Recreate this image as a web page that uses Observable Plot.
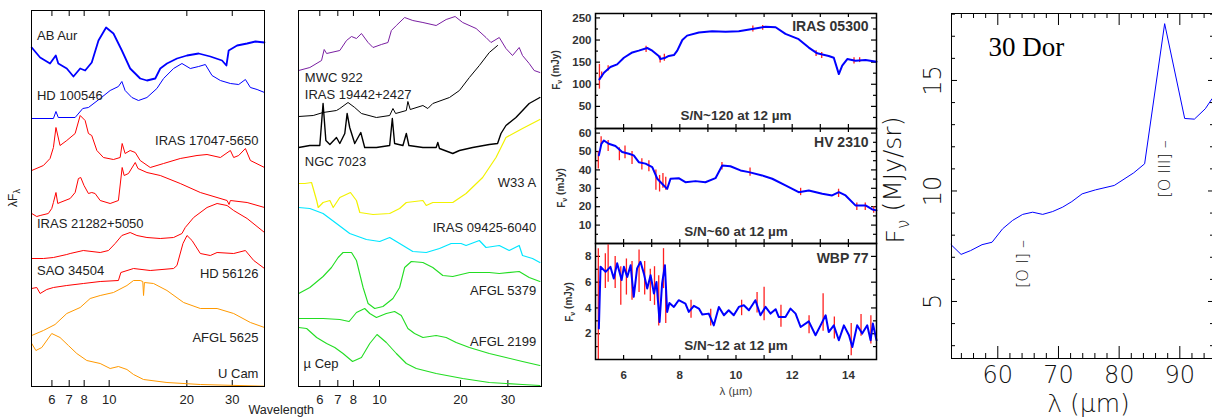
<!DOCTYPE html>
<html><head><meta charset="utf-8">
<script src="https://cdn.jsdelivr.net/npm/d3@7"></script>
<script src="https://cdn.jsdelivr.net/npm/@observablehq/plot@0.6"></script>
<style>
body{margin:0;background:#fff}
#root{position:relative;width:1212px;height:418px;overflow:hidden;background:#fff}
#root svg{position:absolute;overflow:visible}
</style></head>
<body><div id="root"></div>
<script>
// ---------------- Panel 1 (left) spectra: wavelength (µm) and arbitrary offset flux ----------------
const p1Ticks = [6, 7, 8, 10, 20, 30];
const abAurWave = [5.01,5.40,5.90,6.21,6.35,6.85,7.27,7.72,8.07,8.56,9.09,9.73,10.39,11.20,12.06,13.19,14.01,15.09,15.78,16.75,18.32,20.03,22.22,24.66,27.39,28.47,29.06,31.32,34.25,36.89,40];
const abAurFlux = [339,329,323,331,323,318,310,318,316,324,346,359,353,336,318,308,306,308,318,323,328,331,333,330,326,321,336,341,343,345,344];
const hd100546Wave = [5.01,6.08,6.22,6.35,7.38,7.90,8.31,9.23,10.09,10.86,11.20,11.53,12.25,12.99,14.01,15.31,16.25,17.77,19.15,20.63,22.22,23.59,25.04,26.98,29.50,31.77,33.73,35.27,37.45,40];
const hd100546Flux = [268,268,275,269,269,278,279,288,296,300,305,296,289,286,289,298,308,318,323,318,320,322,311,306,303,302,307,299,297,294];
const iras17047Wave = [5.01,5.56,5.90,6.08,6.22,6.45,6.85,7.38,7.72,8.07,8.31,8.56,8.96,9.50,10.39,11.03,11.23,11.53,12.06,12.62,13.19,14.43,16.25,18.86,21.90,23.95,26.98,29.50,30.38,31.77,33.73,35.27,40];
const iras17047Flux = [216,221,228,239,259,241,246,253,271,266,253,251,236,229,227,229,243,233,236,234,226,219,223,228,231,232,229,236,229,231,238,226,219];
const redPahWave = [5.01,5.24,5.40,5.81,5.99,6.08,6.22,6.32,6.45,7.06,7.38,7.60,7.76,7.99,8.31,8.56,8.82,9.23,10.09,10.86,11.23,11.43,11.88,12.62,12.93,14.01,15.78,18.86,22.56,28.64,29.15,29.50,34.25,40];
const redPahFlux = [173,170,171,173,178,184,194,183,184,188,194,208,209,201,193,194,193,186,183,186,219,211,213,224,218,214,211,203,194,186,182,186,184,179];
const iras21282Wave = [5.01,5.56,6.08,6.85,7.06,7.94,9.23,9.94,10.55,11.20,12.06,12.81,14.01,15.78,17.77,19.15,19.72,21.25,23.95,26.2,28.64,30.38,34.25,40];
const iras21282Flux = [128,128,129,132,133,136,134,136,143,151,154,151,149,148,149,153,159,169,179,183,181,176,168,154];
const sao34504Wave = [5.01,5.24,5.40,5.73,6.08,6.85,7.94,9.23,10.86,11.10,12.43,14.43,17.77,18.31,19.32,20.03,20.95,22.56,24.66,26.2,30.38,33.73,36.34,40];
const sao34504Flux = [98,99,93,97,99,101,103,105,106,114,118,116,118,121,143,151,146,133,131,134,133,136,126,118];
const afgl5625Wave = [5.01,5.56,6.17,6.85,7.72,8.44,9.23,10.39,11.72,12.43,13.19,13.50,13.59,13.70,14.86,16.75,19.43,22.56,26.2,30.38,35.27,40];
const afgl5625Flux = [51,56,62,73,79,88,91,94,101,106,106,105,91,104,103,96,84,78,78,73,64,59];
const uCamWave = [5.01,5.20,5.48,5.99,6.45,6.95,7.49,8.19,9.23,10.09,10.86,11.72,12.43,13.59,16.75,22.56,40];
const uCamFlux = [43,36,39,53,49,41,33,26,23,18,20,17,12,7,4,2,0.3];
const p1LeftText = ["AB Aur", "HD 100546", "IRAS 21282+5050", "SAO 34504"];
const p1LeftWave = [5.25, 5.25, 5.25, 5.25];
const p1LeftFlux = [351, 291, 163, 116];
const p1RightText = ["IRAS 17047-5650", "HD 56126", "AFGL 5625", "U Cam"];
const p1RightWave = [37.9, 37.9, 37.9, 37.9];
const p1RightFlux = [246, 113, 49, 13];

// ---------------- Panel 2 spectra ----------------
const mwc922Wave = [5.01,5.51,6.09,6.23,6.36,7.12,7.54,7.87,8.21,8.57,9.07,9.46,10.16,10.75,11.07,11.55,12.40,13.30,14.50,16.24,17.69,19.10,20.38,22.86,24.88,25.96,27.87,29.51,31.21,33.05,34.00,36.00,37.57,39.45];
const mwc922Flux = [316,319,326,337,333,336,346,350,348,353,344,339,342,344,356,361,369,366,364,361,367,370,364,358,349,344,349,338,331,339,331,323,316,314];
const iras19442Wave = [5.01,5.67,6.17,6.92,7.12,7.64,8.09,8.57,9.74,10.91,11.22,11.48,12.58,12.75,13.01,14.50,15.12,15.78,18.20,19.82,21.58,23.50,25.59,27.47];
const iras19442Flux = [270,271,274,276,278,284,279,273,269,271,278,273,276,285,277,281,278,283,289,296,309,321,334,341];
const ngc7023Wave = [5.01,5.51,6.00,6.17,6.32,6.54,6.92,7.12,7.43,7.58,7.75,8.09,8.52,8.81,9.74,10.91,11.16,11.38,12.22,12.58,12.86,14.50,16.24,16.47,16.71,18.72,19.82,22.20,25.59,27.47,28.28,29.51,32.14,36.00,39.45];
const ngc7023Flux = [239,241,241,283,246,242,249,243,253,273,259,243,254,239,239,241,268,243,241,253,241,239,239,244,238,233,236,239,242,243,253,261,269,283,289];
const w33aWave = [5.01,5.28,5.59,5.84,5.92,6.17,6.54,6.73,7.12,7.80,8.21,8.45,9.46,10.91,11.88,12.58,14.50,14.92,15.78,18.72,20.98,24.17,27.10,29.51,34.00,39.45];
const w33aFlux = [203,203,204,186,179,184,186,179,189,194,186,174,172,173,178,184,186,181,184,184,193,209,229,249,258,267];
const iras09425Wave = [5.01,5.51,6.17,6.92,7.75,8.94,10.02,10.91,11.88,13.30,14.92,16.71,18.47,20.10,20.98,23.50,24.88,27.87,30.35,33.05,34.00,37.03,39.45];
const iras09425Flux = [179,178,173,163,153,147,145,149,143,135,134,138,143,143,141,146,139,141,136,141,131,128,124];
const afgl5379Wave = [5.01,5.51,6.17,6.63,7.02,7.32,7.87,8.21,8.69,9.07,9.60,10.30,11.22,11.88,12.40,13.13,14.50,15.78,17.19,18.72,21.58,25.59,27.87,33.05,36.00,39.45];
const afgl5379Flux = [93,99,110,119,129,134,134,126,99,83,78,80,88,99,119,125,124,119,111,110,114,114,113,115,109,105];
const afgl2199Wave = [5.01,5.51,6.17,7.12,7.71,8.21,8.81,9.20,9.74,10.60,11.38,12.05,12.75,13.50,14.50,16.24,17.69,19.27,21.58,25.59,29.51,34.00,39.45];
const afgl2199Flux = [68,68,68,67,65,74,78,73,69,73,75,71,58,53,49,51,49,44,39,33,29,25,21];
const muCepWave = [5.01,5.36,5.84,6.36,6.82,7.32,7.94,8.57,9.20,9.79,10.60,11.55,12.58,13.70,16.24,20.38,25.59,34.00,39.45];
const muCepFlux = [59,58,49,43,39,33,25,29,43,52,44,33,23,18,13,8,4,2,1];
const p2LeftText = ["MWC 922", "IRAS 19442+2427", "NGC 7023", "\u00b5 Cep"];
const p2LeftWave = [5.28, 5.28, 5.28, 5.22];
const p2LeftFlux = [309, 292, 225, 23];
const p2RightText = ["W33 A", "IRAS 09425-6040", "AFGL 5379", "AFGL 2199"];
const p2RightWave = [38.2, 38.2, 38.2, 38.2];
const p2RightFlux = [204, 159, 96, 45];

// ---------------- Panel 3 (three Spitzer spectra) ----------------
const mirTicksLabeled = [6, 8, 10, 12, 14];
const mirTicks = [6, 7, 8, 9, 10, 11, 12, 13, 14];
const iras05300Wave = [5.14,5.30,5.53,5.77,6.01,6.31,6.54,6.84,7.02,7.25,7.31,7.49,7.61,7.79,7.91,8.09,8.26,8.68,9.15,9.63,10.10,10.58,11.05,11.41,11.76,12.23,12.59,12.89,13.30,13.48,13.66,13.78,13.96,14.25,14.61,15.0];
const iras05300Flux = [111,126,139,145,160,172,176,182,176,164,157,160,164,166,176,200,210,217,220,219,220,225,230,229,214,202,183,170,164,160,123,142,157,153,155,151];
const iras05300RedWave = [5.14,5.22,5.45,6.80,7.30,7.45,10.60,10.95,12.85,13.05,14.20,14.40];
const iras05300RedLo = [89,115,130,172,148,152,218,222,163,158,146,149];
const iras05300RedHi = [145,128,142,186,164,168,232,233,176,172,160,160];
const hv2310Wave = [5.12,5.21,5.30,5.47,5.71,5.95,6.19,6.36,6.54,6.78,7.02,7.20,7.37,7.55,7.67,7.96,8.20,8.56,8.91,9.27,9.51,9.80,10.16,10.46,10.93,11.29,11.76,12.23,12.59,13.07,13.42,13.66,13.90,14.25,14.61,14.85,15.0];
const hv2310Flux = [47.9,54.2,56,54.2,53,49.7,48.8,47.9,44.2,43.4,41.5,35.2,32.5,29.7,35.2,35.5,33.3,33.9,33.3,35.5,42.4,42.0,39.7,38.8,37.0,35.2,31.6,27.9,28.8,27.0,26.1,27.9,26.1,20.7,20.7,18.5,18.0];
const hv2310RedWave = [5.10,5.20,5.45,5.85,6.05,6.30,6.65,6.90,7.15,7.28,7.40,7.50,9.50,10.50,12.30,13.65,14.30,14.60,14.90];
const hv2310RedLo = [40.5,53,50,45,46,43,40,39,29,28,30,29,40,36.5,26,25,18,18,16.5];
const hv2310RedHi = [50,58,56,52,53,50,46,45,40,37,38,36,44,41,30,29.5,22,22,20];
const wbp77Wave = [5.12,5.18,5.36,5.53,5.65,5.77,5.93,6.01,6.13,6.25,6.36,6.48,6.60,6.72,6.84,6.96,7.08,7.17,7.28,7.37,7.47,7.55,7.63,7.79,7.96,8.20,8.32,8.50,8.68,8.80,9.03,9.21,9.39,9.57,9.74,9.92,10.10,10.28,10.46,10.69,10.87,11.05,11.23,11.41,11.52,11.76,11.94,12.12,12.30,12.59,12.83,13.01,13.19,13.30,13.48,13.66,13.84,14.02,14.14,14.31,14.49,14.67,14.79,14.87,15.0];
const wbp77Flux = [2.4,7.19,6.80,7.19,6.29,7.46,6.16,7.19,6.41,7.32,4.86,7.07,7.58,6.68,5.51,6.54,5.12,6.02,2.91,5.90,7.32,3.69,4.39,4.08,4.60,4.34,3.69,4.16,3.95,3.49,3.56,2.65,4.08,3.43,3.82,3.43,4.08,4.21,3.82,4.60,3.43,4.08,3.56,3.90,3.30,3.30,3.95,3.56,2.52,2.96,1.88,2.65,3.43,2.13,2.65,1.49,2.65,1.88,0.97,2.65,2.01,2.65,1.49,2.79,1.49];
const wbp77RedWave = [5.10,5.35,5.45,5.70,5.90,6.10,6.30,6.55,6.75,6.95,7.10,7.25,7.42,7.50,8.40,9.10,10.20,10.75,11.00,11.60,12.60,13.10,13.50,14.10,14.45,14.80];
const wbp77RedLo = [0,5.5,6,5.5,4.2,5,4.6,5.2,5.0,4.5,4.2,2.6,5.5,2.8,3.2,2.6,3.4,3.6,3.0,2.5,2.0,2.2,1.6,0.3,1.8,1.2];
const wbp77RedHi = [8.6,8.2,8.9,8.0,7.2,7.8,7.6,8.5,7.6,7.0,7.2,6.5,8.6,5.5,4.6,3.9,4.6,5.2,5.6,4.2,3.4,5.1,3.3,2.8,3.5,3.4];

// ---------------- Panel 4: 30 Dor ----------------
const dorWave = [52.3,53.95,55.5,57.4,59.05,60.8,62.45,64.1,65.75,67.4,69.05,70.7,72.2,73.9,76.1,79.2,82.4,84.2,87.5,90.8,92.4,94.2,95.3];
const dorFlux = [7.57,7.13,7.3,7.57,7.68,8.29,8.67,8.94,9.04,8.94,9.07,9.27,9.52,9.87,10.05,10.25,10.82,11.23,17.57,13.28,13.25,13.72,14.17];
const dorXTicks = [60, 70, 80, 90];
const dorXMinor = [54,56,58,62,64,66,68,72,74,76,78,82,84,86,88,92,94];
const dorYTicks = [5, 10, 15];
const dorYMinor = [3,4,6,7,8,9,11,12,13,14,16,17,18];
const dorLineText = ["[O I] \u2013", "[O III] \u2013"];
const dorLineWave = [64.2, 87.6];
const dorLineFlux = [6.7, 11.0];

// ======================================================================
const SANS = "'Liberation Sans', Arial, Helvetica, sans-serif";
const root = document.getElementById("root");
const rows = (w, f) => w.map((x, i) => ({x, y: f[i]}));
const idx = a => a.map((_, i) => i);
function place(svg, left, top) { svg.style.left = left + "px"; svg.style.top = top + "px"; root.appendChild(svg); return svg; }

function spectraPanel(width, ml, mr, series, styles, lt, lw, lf, rt, rw, rf) {
  const H = 376;
  const marks = [
    Plot.ruleX(p1Ticks, {x: d => d, insetTop: H - 6, stroke: "#000"}),
    Plot.ruleX(p1Ticks, {x: d => d, insetBottom: H - 6, stroke: "#000"})
  ];
  series.forEach(([w, f], k) => marks.push(Plot.line(rows(w, f), {x: "x", y: "y", stroke: styles[k][0], strokeWidth: styles[k][1], strokeLinejoin: "round"})));
  marks.push(Plot.frame({stroke: "#000", strokeWidth: 1}));
  marks.push(Plot.text(p1Ticks, {x: d => d, text: d => String(d), frameAnchor: "bottom", dy: 13, lineAnchor: "middle", fontSize: 13, fill: "#222"}));
  marks.push(Plot.text(idx(lt), {x: i => lw[i], y: i => lf[i], text: i => lt[i], textAnchor: "start", lineAnchor: "middle", fontSize: 13, fill: "#222"}));
  marks.push(Plot.text(idx(rt), {x: i => rw[i], y: i => rf[i], text: i => rt[i], textAnchor: "end", lineAnchor: "middle", fontSize: 13, fill: "#222"}));
  return {marks, opts: {width, height: 418, marginLeft: ml, marginRight: mr, marginTop: 10, marginBottom: 32,
    x: {type: "log", domain: [5, 40], axis: null}, y: {domain: [0, 376], axis: null},
    style: {fontFamily: SANS, background: "transparent", overflow: "visible"}}};
}

// Panel 1 (svg made wider than its frame so that the "Wavelength" title lies inside it)
{
  const s = [[abAurWave, abAurFlux],[hd100546Wave, hd100546Flux],[iras17047Wave, iras17047Flux],[redPahWave, redPahFlux],[iras21282Wave, iras21282Flux],[sao34504Wave, sao34504Flux],[afgl5625Wave, afgl5625Flux],[uCamWave, uCamFlux]];
  const st = [["#0000ff",1.8],["#0000ff",1],["#ff0000",1],["#ff0000",1],["#ff0000",1],["#ff0000",1],["#ff9900",1],["#ff9900",1]];
  const {marks, opts} = spectraPanel(330, 31, 66, s, st, p1LeftText, p1LeftWave, p1LeftFlux, p1RightText, p1RightWave, p1RightFlux);
  marks.push(Plot.text(["Wavelength"], {text: d => d, frameAnchor: "bottom-right", textAnchor: "start", lineAnchor: "middle", dx: -16, dy: 23, fontSize: 12.5, fill: "#222"}));
  const svg = place(Plot.plot({...opts, marks}), 0, 0);
  const t = d3.select(svg).append("text").attr("transform", "translate(13,198) rotate(-90)")
    .attr("text-anchor", "middle").attr("dy", "0.35em").attr("font-family", SANS).attr("font-size", 12).attr("fill", "#222");
  t.append("tspan").text("\u03bbF");
  t.append("tspan").text("\u03bb").attr("font-size", 9).attr("dy", "0.3em");
}
// Panel 2
{
  const s = [[mwc922Wave, mwc922Flux],[iras19442Wave, iras19442Flux],[ngc7023Wave, ngc7023Flux],[w33aWave, w33aFlux],[iras09425Wave, iras09425Flux],[afgl5379Wave, afgl5379Flux],[afgl2199Wave, afgl2199Flux],[muCepWave, muCepFlux]];
  const st = [["#7a1fa2",1],["#000000",1],["#000000",1.4],["#f2f200",1.2],["#00e6ff",1.2],["#22dd22",1.1],["#22dd22",1.1],["#22dd22",1.1]];
  const {marks, opts} = spectraPanel(260, 8, 9, s, st, p2LeftText, p2LeftWave, p2LeftFlux, p2RightText, p2RightWave, p2RightFlux);
  place(Plot.plot({...opts, marks}), 290, 0);
}

// Panel 3
function mirPlot(cfg) {
  const H = cfg.height - cfg.mt - cfg.mb, W = 281;
  const marks = [
    Plot.ruleX(mirTicks, {x: d => d, insetTop: H - 4, stroke: "#000", strokeWidth: 1.2}),
    Plot.ruleX(mirTicks, {x: d => d, insetBottom: H - 4, stroke: "#000", strokeWidth: 1.2}),
    Plot.ruleY(cfg.yMinor, {y: d => d, insetRight: W - 3, stroke: "#000", strokeWidth: 1.2}),
    Plot.ruleY(cfg.yMinor, {y: d => d, insetLeft: W - 3, stroke: "#000", strokeWidth: 1.2}),
    Plot.ruleY(cfg.yMajor, {y: d => d, insetRight: W - 5, stroke: "#000", strokeWidth: 1.2}),
    Plot.ruleY(cfg.yMajor, {y: d => d, insetLeft: W - 5, stroke: "#000", strokeWidth: 1.2}),
    Plot.ruleX(idx(cfg.rw), {x: i => cfg.rw[i], y1: i => cfg.rlo[i], y2: i => cfg.rhi[i], stroke: "#ff2020", strokeWidth: 1.3}),
    Plot.line(rows(cfg.bw, cfg.bf), {x: "x", y: "y", stroke: "#0000ff", strokeWidth: 2, strokeLinejoin: "round"}),
    Plot.frame({stroke: "#000", strokeWidth: 1.5}),
    Plot.text(cfg.yMajor, {y: d => d, text: d => String(d), frameAnchor: "left", dx: -4, textAnchor: "end", lineAnchor: "middle", fontSize: 11.5, fontWeight: "bold", fill: "#333"}),
    Plot.text([cfg.name], {text: d => d, frameAnchor: "top-right", textAnchor: "end", lineAnchor: "middle", dx: -8, dy: cfg.nameDy, fontSize: 14, fontWeight: "bold", fill: "#333"}),
    Plot.text([cfg.sn], {text: d => d, frameAnchor: "bottom", textAnchor: "middle", lineAnchor: "middle", dy: cfg.snDy, fontSize: 13.5, fontWeight: "bold", fill: "#333"})
  ];
  if (cfg.xLabels) {
    marks.push(Plot.text(mirTicksLabeled, {x: d => d, text: d => String(d), frameAnchor: "bottom", dy: 16, lineAnchor: "middle", fontSize: 11.5, fontWeight: "bold", fill: "#333"}));
    marks.push(Plot.text(["\u03bb (\u00b5m)"], {text: d => d, frameAnchor: "bottom", dy: 32, lineAnchor: "middle", fontSize: 11.5, fill: "#444"}));
  }
  const svg = place(Plot.plot({width: 340, height: cfg.height, marginLeft: 50, marginRight: 9, marginTop: cfg.mt, marginBottom: cfg.mb,
    x: {domain: [5, 15], axis: null}, y: {domain: cfg.domain, axis: null},
    style: {fontFamily: SANS, background: "transparent", overflow: "visible"}, marks}), 545, cfg.top);
  const t = d3.select(svg).append("text").attr("transform", `translate(${cfg.lx},${cfg.ly}) rotate(-90)`)
    .attr("text-anchor", "middle").attr("dy", "0.35em").attr("font-family", SANS).attr("font-weight", "bold").attr("font-size", 10).attr("fill", "#333");
  t.append("tspan").text("F");
  t.append("tspan").text("\u03bd").attr("font-size", 7).attr("dy", "0.3em");
  t.append("tspan").text(" (mJy)").attr("dy", "-0.3em");
}
mirPlot({top: 0, height: 128, mt: 13, mb: 0, domain: [0, 260], yMajor: [50,100,150,200,250], yMinor: [25,75,125,175,225],
  bw: iras05300Wave, bf: iras05300Flux, rw: iras05300RedWave, rlo: iras05300RedLo, rhi: iras05300RedHi,
  name: "IRAS 05300", nameDy: 13, sn: "S/N~120 at 12 \u00b5m", snDy: -13, lx: 11, ly: 70});
mirPlot({top: 128, height: 115, mt: 0, mb: 0, domain: [0, 62.5], yMajor: [10,20,30,40,50,60], yMinor: [5,15,25,35,45,55],
  bw: hv2310Wave, bf: hv2310Flux, rw: hv2310RedWave, rlo: hv2310RedLo, rhi: hv2310RedHi,
  name: "HV 2310", nameDy: 14, sn: "S/N~60 at 12 \u00b5m", snDy: -12, lx: 16, ly: 60});
mirPlot({top: 243, height: 175, mt: 0, mb: 59, domain: [0, 9], yMajor: [2,4,6,8], yMinor: [1,3,5,7],
  bw: wbp77Wave, bf: wbp77Flux, rw: wbp77RedWave, rlo: wbp77RedLo, rhi: wbp77RedHi,
  name: "WBP 77", nameDy: 15, sn: "S/N~12 at 12 \u00b5m", snDy: -14, lx: 24, ly: 59, xLabels: true});

// Panel 4
{
  const LIGHT = "'DejaVu Sans', sans-serif";
  const H = 345, W = 262;
  const marks = [
    Plot.ruleX(dorXMinor, {x: d => d, insetTop: H - 5, stroke: "#000"}),
    Plot.ruleX(dorXMinor, {x: d => d, insetBottom: H - 5, stroke: "#000"}),
    Plot.ruleX(dorXTicks, {x: d => d, insetTop: H - 12, stroke: "#000"}),
    Plot.ruleX(dorXTicks, {x: d => d, insetBottom: H - 12, stroke: "#000"}),
    Plot.ruleY(dorYMinor, {y: d => d, insetRight: W - 4, stroke: "#000"}),
    Plot.ruleY(dorYMinor, {y: d => d, insetLeft: W - 3, stroke: "#000"}),
    Plot.ruleY(dorYTicks, {y: d => d, insetRight: W - 6, stroke: "#000"}),
    Plot.ruleY(dorYTicks, {y: d => d, insetLeft: W - 5, stroke: "#000"}),
    Plot.line(rows(dorWave, dorFlux), {x: "x", y: "y", stroke: "#0000ff", strokeWidth: 1}),
    Plot.frame({stroke: "#000", strokeWidth: 1}),
    Plot.text(dorXTicks, {x: d => d, text: d => String(d), frameAnchor: "bottom", dy: 17, lineAnchor: "middle", fontSize: 24, fontFamily: LIGHT, fontWeight: 200, fill: "#111"}),
    Plot.text(dorYTicks, {y: d => d, text: d => String(d), frameAnchor: "left", dx: -18, rotate: -90, textAnchor: "middle", lineAnchor: "middle", fontSize: 24, fontFamily: LIGHT, fontWeight: 200, fill: "#111"}),
    Plot.text(["\u03bb (\u00b5m)"], {text: d => d, frameAnchor: "bottom", dx: 6, dy: 45, lineAnchor: "middle", fontSize: 25, fontFamily: LIGHT, fontWeight: 200, fill: "#111"}),
    Plot.text(["30 Dor"], {text: d => d, frameAnchor: "top-left", textAnchor: "start", lineAnchor: "middle", dx: 37, dy: 34, fontSize: 27, fontFamily: "'Liberation Serif', 'Times New Roman', serif", fill: "#000"}),
    Plot.text(idx(dorLineText), {x: i => dorLineWave[i], y: i => dorLineFlux[i], text: i => dorLineText[i], rotate: -90, textAnchor: "middle", lineAnchor: "middle", fontSize: 16, fontFamily: LIGHT, fontWeight: 200, fill: "#111"})
  ];
  const svg = place(Plot.plot({width: 340, height: 418, marginLeft: 51, marginRight: 27, marginTop: 13, marginBottom: 60,
    x: {domain: [52.37, 95.55], axis: null}, y: {domain: [2.42, 18.03], axis: null},
    style: {fontFamily: LIGHT, background: "transparent", overflow: "visible"}, marks}), 900, 0);
  const t = d3.select(svg).append("text").attr("transform", "translate(-5,180) rotate(-90)")
    .attr("text-anchor", "middle").attr("dy", "0.35em").attr("font-family", LIGHT).attr("font-weight", 200).attr("font-size", 25).attr("fill", "#111");
  t.append("tspan").text("F");
  t.append("tspan").text("\u03bd").attr("font-size", 17).attr("dy", "0.3em");
  t.append("tspan").text(" (MJy/sr)").attr("dy", "-0.3em");
}
</script></body></html>
